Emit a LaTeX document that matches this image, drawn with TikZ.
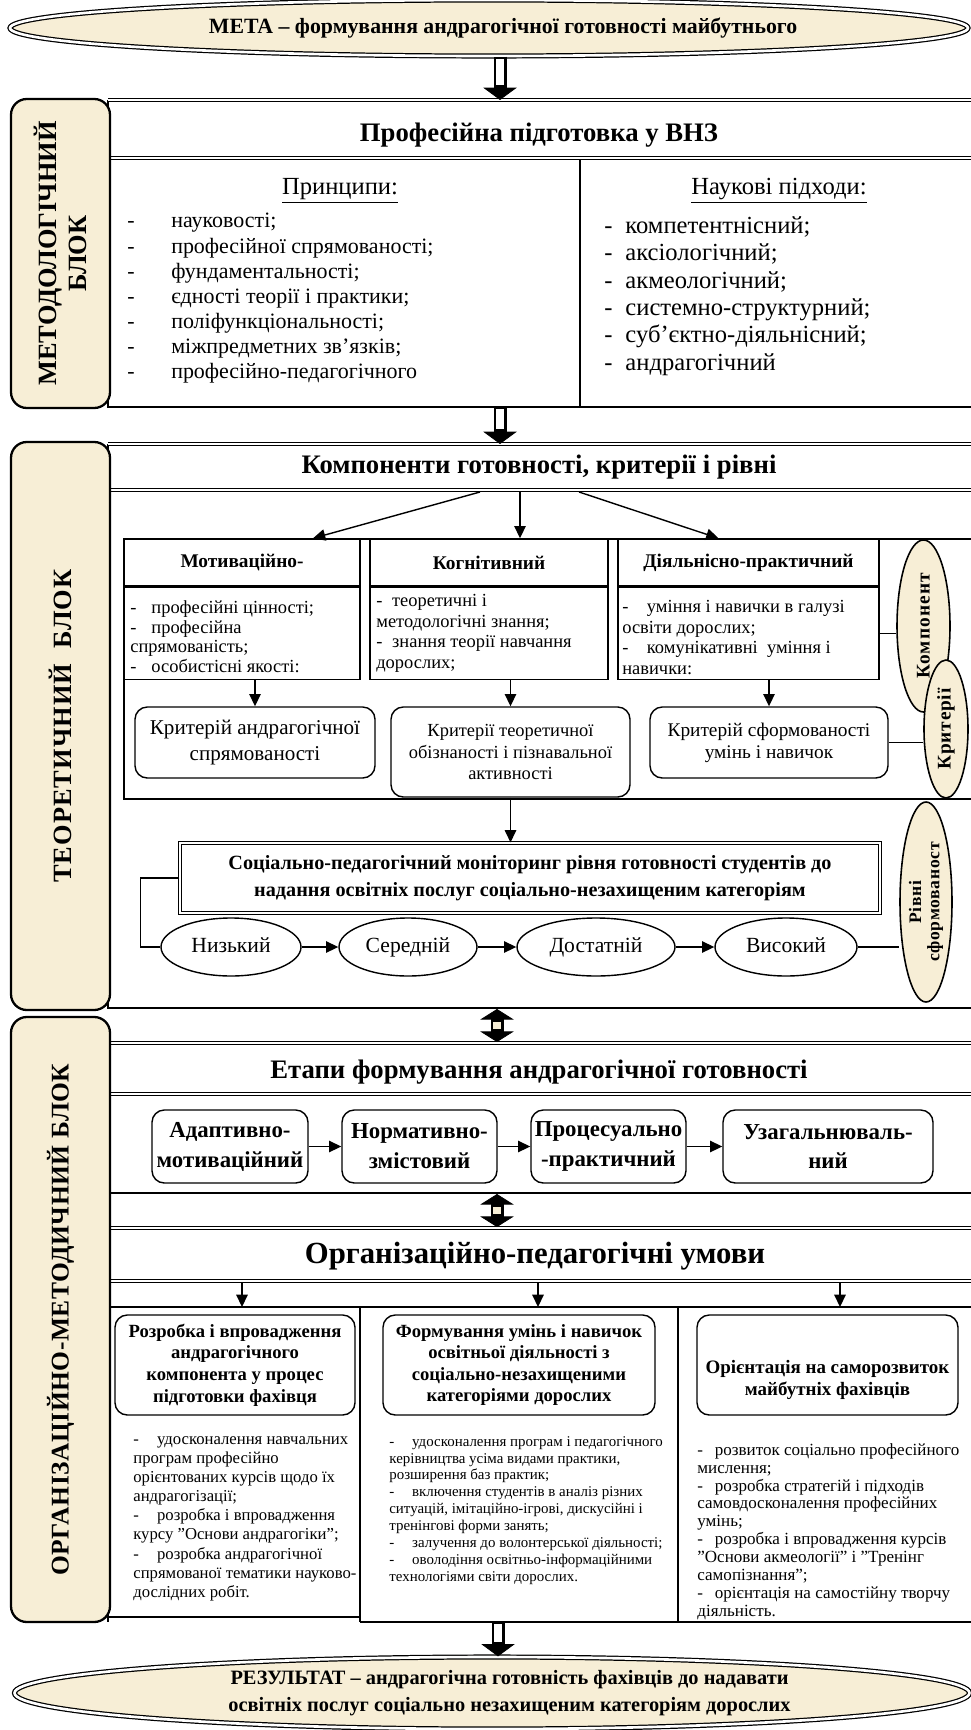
\documentclass[tikz,border=0pt]{standalone}
\usepackage{fontspec}
\setmainfont{Liberation Serif}
\usetikzlibrary{arrows.meta,shapes.geometric,positioning}

\definecolor{cream}{RGB}{247,238,214}
\newlength\px \setlength\px{0.02cm}
\newcommand\fsz[2]{\fontsize{#1}{#2}\selectfont}
\newcommand\ldash[1][13pt]{\makebox[#1][l]{-}}

\tikzset{
  lab/.style={draw, line width=1.3pt, rounded corners=9pt, fill=cream, inner sep=0pt, rotate=90, align=center},
  oval/.style={ellipse, draw, line width=0.7pt, double, double distance=1.5pt, fill=cream, inner sep=0pt, align=center},
  side/.style={ellipse, draw, line width=0.9pt, fill=cream, inner sep=0pt, rotate=90, align=center, font=\fsz{11}{12}\bfseries},
  cell/.style={draw, line width=0.8pt, inner sep=0pt},
  rbox/.style={draw, line width=0.8pt, rounded corners=7pt, inner sep=0pt, align=center},
  lvl/.style={ellipse, draw, line width=0.8pt, inner sep=0pt, minimum height=58*\px, text height=8.5pt, text depth=2.5pt, font=\fsz{12.3}{14}},
  dbl/.style={double, double distance=1.2pt, line width=0.6pt},
  frm/.style={line width=0.8pt},
  arr/.style={line width=0.8pt, -{Triangle[length=7pt,width=6.5pt]}},
  fat/.style={line width=7.4pt, -{Triangle[length=7pt,width=19pt,line width=0.4pt]}},
  fatin/.style={line width=4.6pt, draw=white, shorten >=8.4pt, shorten <=1.4pt},
  fatt/.style={line width=7.4pt, {Triangle[length=6pt,width=19pt,line width=0.4pt]}-{Triangle[length=6pt,width=19pt,line width=0.4pt]}},
  fattin/.style={line width=4.6pt, draw=cream, shorten >=7.4pt, shorten <=7.4pt},
  lst/.style={anchor=north west, align=left, inner sep=0pt},
  head/.style={font=\fsz{15.2}{17}\bfseries}
}

\begin{document}
\begin{tikzpicture}[x=0.02cm, y=-0.02cm]
\useasboundingbox (0,0) rectangle (970,1730);
%\draw[help lines, step=50] (0,0) grid (970,1730);

% goal
\node[oval, minimum width=958*\px, minimum height=56*\px, font=\fsz{12.4}{14}\bfseries] (meta) at (489,28) {\hspace*{16pt}МЕТА – формування андрагогічної готовності майбутнього};

% methodological block
\draw[frm] (980,407) -- (108,407) -- (108,100);
\draw[frm] (580,158) -- (580,407);
\draw[dbl] (108,100) -- (980,100);
\draw[dbl] (108,158) -- (980,158);
\node[head] (prof) at (539,135) {Професійна підготовка у ВНЗ};
\node[font=\fsz{14}{16}] (prin) at (340,191) {\underline{Принципи:}};
\node[lst, font=\fsz{12.5}{14.3}] (prinl) at (127,213) {\ldash[25pt]науковості;\\
 \ldash[25pt]професійної спрямованості;\\
 \ldash[25pt]фундаментальності;\\
 \ldash[25pt]єдності теорії і практики;\\
 \ldash[25pt]поліфункціональності;\\
 \ldash[25pt]міжпредметних зв’язків;\\
 \ldash[25pt]професійно-педагогічного};
\node[font=\fsz{14}{16}] (pidh) at (779,191) {\underline{Наукові підходи:}};
\node[lst, font=\fsz{14}{15.6}] (pidhl) at (604,216) {\ldash[12pt]компетентнісний;\\
 \ldash[12pt]аксіологічний;\\
 \ldash[12pt]акмеологічний;\\
 \ldash[12pt]системно-структурний;\\
 \ldash[12pt]суб’єктно-діяльнісний;\\
 \ldash[12pt]андрагогічний};
\node[lab, minimum width=309*\px, minimum height=99*\px, font=\fsz{15}{17}\bfseries] (mlab) at (60.5,253.5) {МЕТОДОЛОГІЧНИЙ\\БЛОК};
\coordinate (m1) at (500,100);
\draw[fat] (meta.south -| m1) -- (m1);
\draw[fatin] (meta.south -| m1) -- (m1);

% theoretical block
\draw[frm] (980,1008) -- (108,1008) -- (108,444);
\draw[dbl] (108,444) -- (980,444);
\draw[dbl] (108,490) -- (980,490);
\node[head] (komp) at (539,467) {Компоненти готовності, критерії і рівні};
\coordinate (m2) at (500,407);
\draw[fat] (m2) -- (m2 |- 0,444);
\draw[fatin] (m2) -- (m2 |- 0,444);
\draw[frm] (980,539) -- (124,539) -- (124,799) -- (980,799);

\node[cell, minimum width=236*\px, minimum height=47*\px, font=\fsz{11}{13}\bfseries] (k1h) at (242,562.5) {Мотиваційно-};
\node[cell, minimum width=236*\px, minimum height=92*\px, below=0pt of k1h] (k1b) {};
\node[cell, minimum width=238*\px, minimum height=47*\px, font=\fsz{11}{13}\bfseries] (k2h) at (489,562.5) {Когнітивний};
\node[cell, minimum width=238*\px, minimum height=92*\px, below=0pt of k2h] (k2b) {};
\node[cell, minimum width=261*\px, minimum height=47*\px, font=\fsz{11}{13}\bfseries] (k3h) at (748.5,562.5) {Діяльнісно-практичний};
\node[cell, minimum width=261*\px, minimum height=92*\px, below=0pt of k3h] (k3b) {};
\node[lst, font=\fsz{10.5}{11.3}] (k1l) at (130,600) {\ldash[12pt]професійні цінності;\\
 \ldash[12pt]професійна\\спрямованість;\\
 \ldash[12pt]особистісні якості:};
\node[lst, font=\fsz{10.5}{11.7}] (k2l) at (376,594) {\ldash[9pt]теоретичні і\\методологічні знання;\\
 \ldash[9pt]знання теорії навчання\\дорослих;};
\node[lst, font=\fsz{10.5}{11.7}] (k3l) at (622,600) {\ldash[14pt]уміння і навички в галузі\\освіти дорослих;\\
 \ldash[14pt]комунікативні\ \ уміння і\\навички:};

\coordinate (ha) at (480,492);
\coordinate (hb) at (520,492);
\coordinate (hc) at (579,492);
\draw[arr] (ha) -- ([xshift=71*\px]k1h.north);
\draw[arr] (hb) -- (hb |- k2h.north);
\draw[arr] (hc) -- ([xshift=-30*\px]k3h.north);

\node[rbox, minimum width=240*\px, minimum height=71*\px, font=\fsz{12}{15}] (c1) at (255,742.5) {Критерій андрагогічної\\спрямованості};
\node[rbox, minimum width=239*\px, minimum height=90*\px, font=\fsz{10.5}{12.2}] (c2) at (510.5,752) {Критерії теоретичної\\обізнаності і пізнавальної\\активності};
\node[rbox, minimum width=238*\px, minimum height=71*\px, font=\fsz{11}{12.5}] (c3) at (769,742.5) {Критерій сформованості\\умінь і навичок};
\draw[arr] (k1b.south -| c1.north) -- (c1.north);
\draw[arr] (k2b.south -| c2.north) -- (c2.north);
\draw[arr] (k3b.south -| c3.north) -- (c3.north);

\node[side, minimum width=172*\px, minimum height=53*\px] (ek) at (923.5,626) {\addfontfeature{LetterSpace=6}Компонент};
\node[side, minimum width=138*\px, minimum height=44*\px] (ec) at (946,729) {\addfontfeature{LetterSpace=4}Критерії};
\node[side, minimum width=200*\px, minimum height=52*\px, font=\fsz{10}{10.5}\bfseries] (er) at (926,902) {\addfontfeature{LetterSpace=4}Рівні\\\addfontfeature{LetterSpace=4}сформованост};
\draw[frm] (k3b.east) -- (k3b.east -| ek.north);
\draw[frm] (c3.east) -- (c3.east -| ec.north);

\node[cell, double, double distance=1.6pt, line width=0.6pt, minimum width=700*\px, minimum height=70*\px, align=center, font=\fsz{11.5}{15}\bfseries] (mon) at (530,878) {Соціально-педагогічний моніторинг рівня готовності студентів до\\надання освітніх послуг соціально-незахищеним категоріям};
\draw[arr] (c2.south) -- (c2.south |- mon.north);

\node[lvl, minimum width=140*\px] (l1) at (231,947) {Низький};
\node[lvl, minimum width=138*\px] (l2) at (408,947) {Середній};
\node[lvl, minimum width=158*\px] (l3) at (596,947) {Достатній};
\node[lvl, minimum width=142*\px] (l4) at (786,947) {Високий};
\draw[arr] (l1) -- (l2);
\draw[arr] (l2) -- (l3);
\draw[arr] (l3) -- (l4);
\draw[frm] (mon.west) -- ++(-39,0) |- (l1.west);
\draw[frm] (l4.east) -- (l4.east -| er.north);
\node[lab, minimum width=568*\px, minimum height=99*\px, font=\fsz{15}{17}\bfseries] (tlab) at (60.5,726) {\addfontfeature{LetterSpace=4}ТЕОРЕТИЧНИЙ\ \ БЛОК};

% organisational block
\draw[frm] (108,1043) -- (108,1622);
\draw[dbl] (108,1043) -- (980,1043);
\node[head] (etap) at (539,1072) {Етапи формування андрагогічної готовності};
\draw[dbl] (108,1094) -- (980,1094);
\coordinate (m3) at (497,1009);
\draw[fatt] (m3) -- (m3 |- 0,1042);
\draw[fattin] (m3) -- (m3 |- 0,1042);

\node[rbox, minimum width=156*\px, minimum height=73*\px, font=\fsz{13}{17}\bfseries] (s1) at (230,1146.5) {Адаптивно-\\мотиваційний};
\node[rbox, minimum width=155*\px, minimum height=73*\px, font=\fsz{13}{17}\bfseries] (s2) at (419.5,1146.5) {Нормативно-\\змістовий};
\node[rbox, minimum width=155*\px, minimum height=73*\px, font=\fsz{13}{17}\bfseries] (s3) at (608.5,1146.5) {Процесуально\\-практичний};
\node[rbox, minimum width=210*\px, minimum height=73*\px, font=\fsz{13}{17}\bfseries] (s4) at (828,1146.5) {Узагальнюваль-\\ний};
\draw[arr] (s1) -- (s2);
\draw[arr] (s2) -- (s3);
\draw[arr] (s3) -- (s4);

\draw[frm] (108,1193) -- (980,1193);
\draw[dbl] (108,1228) -- (980,1228);
\coordinate (m4) at (497,1194);
\draw[fatt] (m4) -- (m4 |- 0,1227);
\draw[fattin] (m4) -- (m4 |- 0,1227);
\node[font=\fsz{17.5}{19}\bfseries] (umovy) at (535,1256) {Організаційно-педагогічні умови};
\draw[dbl] (108,1281) -- (980,1281);
\draw[frm] (108,1307) -- (980,1307);
\foreach \x [count=\i] in {242,538,840} {
  \coordinate (t\i) at (\x,1283);
  \coordinate (b\i) at (\x,1307);
  \draw[arr] (t\i) -- (b\i);
}
\draw[frm] (360,1307) -- (360,1622);
\draw[frm] (678,1307) -- (678,1622);
\draw[frm] (108,1617) -- (360,1617);
\draw[frm] (360,1622) -- (980,1622);

\node[rbox, minimum width=240*\px, minimum height=100*\px, font=\fsz{10.6}{12.3}\bfseries] (u1) at (235,1365) {Розробка і впровадження\\андрагогічного\\компонента у процес\\підготовки фахівця};
\node[rbox, minimum width=272*\px, minimum height=100*\px, font=\fsz{10.6}{12.3}\bfseries] (u2) at (519,1365) {Формування умінь і навичок\\освітньої діяльності з\\соціально-незахищеними\\категоріями дорослих};
\node[rbox, minimum width=261*\px, minimum height=100*\px, font=\fsz{10.8}{12.5}\bfseries] (u3) at (827.5,1365) {\rule{0pt}{25pt}Орієнтація на саморозвиток\\майбутніх фахівців};

\node[lst, font=\fsz{9.5}{10.9}] (v1) at (133,1436) {\ldash[13.5pt]удосконалення навчальних\\
 програм професійно\\
 орієнтованих курсів щодо їх\\
 андрагогізації;\\
 \ldash[13.5pt]розробка і впровадження\\
 курсу ”Основи андрагогіки”;\\
 \ldash[13.5pt]розробка андрагогічної\\
 спрямованої тематики науково-\\
 дослідних робіт.};
\node[lst, font=\fsz{8.5}{9.6}] (v2) at (389,1436) {\ldash[13pt]удосконалення програм і педагогічного\\
 керівництва усіма видами практики,\\
 розширення баз практик;\\
 \ldash[13pt]включення студентів в аналіз різних\\
 ситуацій, імітаційно-ігрові, дискусійні і\\
 тренінгові форми занять;\\
 \ldash[13pt]залучення до волонтерської діяльності;\\
 \ldash[13pt]оволодіння освітньо-інформаційними\\
 технологіями світи дорослих.};
\node[lst, font=\fsz{9.7}{10.2}] (v3) at (697,1443) {\ldash[10pt]розвиток соціально професійного\\
 мислення;\\
 \ldash[10pt]розробка стратегій і підходів\\
 самовдосконалення професійних\\
 умінь;\\
 \ldash[10pt]розробка і впровадження курсів\\
 ”Основи акмеології” і ”Тренінг\\
 самопізнання”;\\
 \ldash[10pt]орієнтація на самостійну творчу\\
 діяльність.};
\node[lab, minimum width=605*\px, minimum height=99*\px, font=\fsz{14.5}{16}\bfseries] (olab) at (60.5,1319.5) {\addfontfeature{LetterSpace=2}ОРГАНІЗАЦІЙНО-МЕТОДИЧНИЙ БЛОК};

% result
\node[oval, minimum width=955*\px, minimum height=72*\px, font=\fsz{11.6}{15}\bfseries] (res) at (492,1693) {\hspace*{20pt}РЕЗУЛЬТАТ – андрагогічна готовність фахівців до надавати\\\hspace*{20pt}освітніх послуг соціально незахищеним категоріям дорослих};
\coordinate (m5) at (498,1622);
\draw[fat] (m5) -- (m5 |- res.north);
\draw[fatin] (m5) -- (m5 |- res.north);
\end{tikzpicture}
\end{document}
